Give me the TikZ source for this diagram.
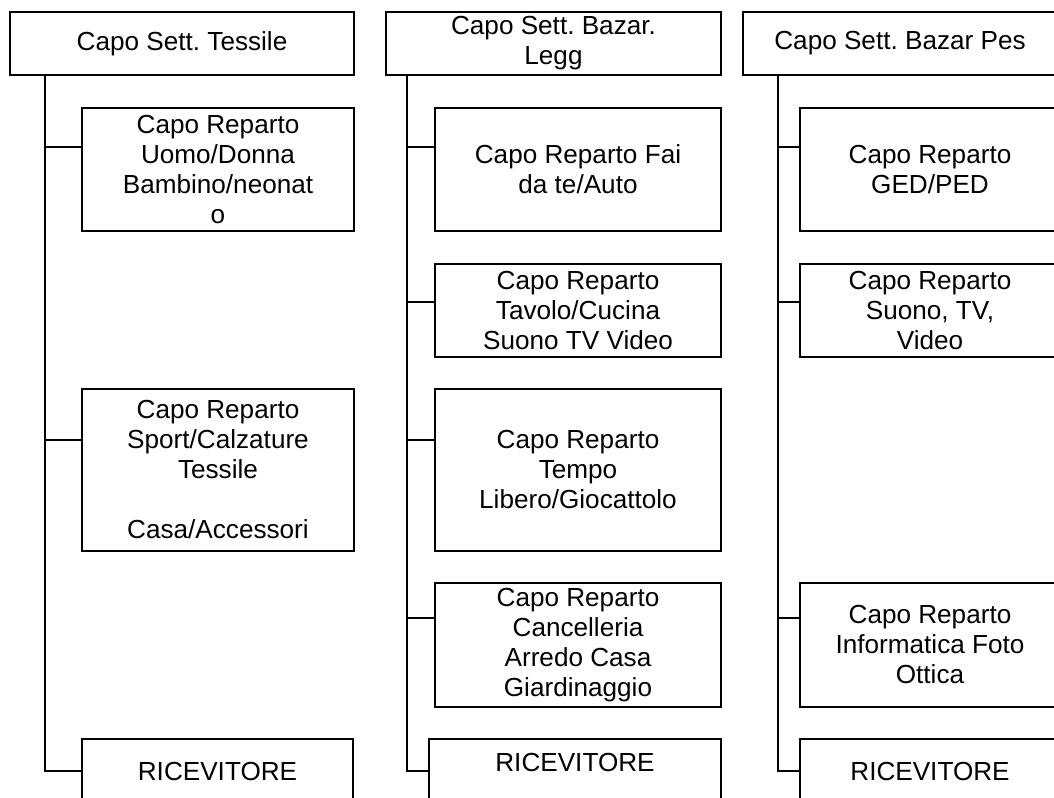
\documentclass[tikz,border=0pt]{standalone}
\usepackage{fontspec}
\setmainfont{Liberation Sans}
\usepackage{tikz}
\frenchspacing

\tikzset{
  capo/.style={draw, line width=2pt, align=center, inner sep=0pt,
    font=\fontsize{19.6}{22.5}\selectfont},
  ricev/.style={capo, anchor=base, text depth=30pt},
  link/.style={line width=2pt}
}

\begin{document}
\begin{tikzpicture}[x=0.75pt,y=-0.75pt]
\useasboundingbox (0,0) rectangle (1054,798);
\clip (0,0) rectangle (1054,798);
% capi settore
\node[capo, minimum width=258pt, minimum height=47.25pt] (t1) at (182,43.5) {Capo Sett. Tessile};
\node[capo, minimum width=251.25pt, minimum height=47.25pt] (t2) at (553.5,43.5) {Capo Sett. Bazar.\\Legg};
\node[capo, minimum width=235.5pt, minimum height=47.25pt] (t3) at (900,43.5) {Capo Sett. Bazar Pes};
% tessile
\node[capo, minimum width=204pt, minimum height=92.25pt] (c1a) at (218,169.5) {Capo Reparto\\Uomo/Donna\\Bambino/neonat\\o};
\node[capo, minimum width=204pt, minimum height=121.5pt] (c1b) at (218,470) {Capo Reparto\\Sport/Calzature\\Tessile\\\mbox{}\\Casa/Accessori};
\node[ricev, minimum width=203.25pt, text height=30.75pt] (r1) at (217.5,780) {RICEVITORE};
% bazar leggero
\node[capo, minimum width=214.5pt, minimum height=92.25pt] (c2a) at (578,169.5) {Capo Reparto Fai\\da te/Auto};
\node[capo, minimum width=214.5pt, minimum height=69.75pt] (c2b) at (578,310.5) {Capo Reparto\\Tavolo/Cucina\\Suono TV Video};
\node[capo, minimum width=214.5pt, minimum height=121.5pt] (c2c) at (578,470) {Capo Reparto\\Tempo\\Libero/Giocattolo};
\node[capo, minimum width=214.5pt, minimum height=93pt] (c2d) at (578,645) {Capo Reparto\\Cancelleria\\Arredo Casa\\Giardinaggio};
\node[ricev, minimum width=219pt, text height=24pt, text depth=36.75pt] (r2) at (575,771) {RICEVITORE};
% bazar pesante
\node[capo, minimum width=195pt, minimum height=92.25pt] (c3a) at (930,169.5) {Capo Reparto\\GED/PED};
\node[capo, minimum width=195pt, minimum height=69.75pt] (c3b) at (930,310.5) {Capo Reparto\\Suono, TV,\\Video};
\node[capo, minimum width=195pt, minimum height=93pt] (c3c) at (930,645) {Capo Reparto\\Informatica Foto\\Ottica};
\node[ricev, minimum width=195pt, text height=30.75pt] (r3) at (930,780) {RICEVITORE};
% linee
\coordinate (j1a) at (45,147);
\coordinate (j1b) at (45,440);
\coordinate (j1r) at (45,771);
\coordinate (j2a) at (407,147);
\coordinate (j2b) at (407,302);
\coordinate (j2c) at (407,440);
\coordinate (j2d) at (407,618);
\coordinate (j2r) at (407,771);
\coordinate (j3a) at (778,147);
\coordinate (j3b) at (778,302);
\coordinate (j3c) at (778,618);
\coordinate (j3r) at (778,771);
\draw[link] (t1.south -| j1r) -- (j1r) -- (j1r -| r1.west);
\draw[link] (j1a) -- (j1a -| c1a.west);
\draw[link] (j1b) -- (j1b -| c1b.west);
\draw[link] (t2.south -| j2r) -- (j2r) -- (j2r -| r2.west);
\draw[link] (j2a) -- (j2a -| c2a.west);
\draw[link] (j2b) -- (j2b -| c2b.west);
\draw[link] (j2c) -- (j2c -| c2c.west);
\draw[link] (j2d) -- (j2d -| c2d.west);
\draw[link] (t3.south -| j3r) -- (j3r) -- (j3r -| r3.west);
\draw[link] (j3a) -- (j3a -| c3a.west);
\draw[link] (j3b) -- (j3b -| c3b.west);
\draw[link] (j3c) -- (j3c -| c3c.west);
\end{tikzpicture}
\end{document}
